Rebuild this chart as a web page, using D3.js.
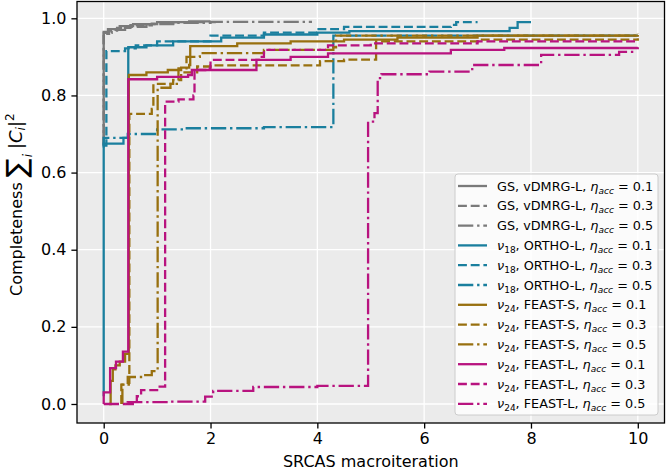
<!DOCTYPE html>
<html><head><meta charset="utf-8">
<script src="https://cdn.jsdelivr.net/npm/d3@7/dist/d3.min.js"></script>
<style>
html,body{margin:0;padding:0;background:#fff;}
text{font-family:"DejaVu Sans",sans-serif;}
</style></head>
<body><svg id="c" width="666" height="470"></svg>
<script>
// ---- data ----
const xTicks = [0, 2, 4, 6, 8, 10];
const yTicks = [0.0, 0.2, 0.4, 0.6, 0.8, 1.0];
const methods = ["GS, vDMRG-L", "ORTHO-L", "FEAST-S", "FEAST-L"];
const etas = ["0.1", "0.3", "0.5"];

const gs01 = [[0,0.67],[0,0.965],[0.08,0.972],[0.3,0.98],[0.55,0.985],[1.0,0.99],[1.6,0.992],[2.0,0.992]];
const gs03 = [[0,0.67],[0,0.96],[0.1,0.968],[0.25,0.975],[0.5,0.982],[0.9,0.986],[1.3,0.99],[2.1,0.99]];
const gs05 = [[0,0.67],[0,0.962],[0.15,0.97],[0.4,0.978],[0.8,0.985],[1.3,0.988],[2.0,0.991],[3.9,0.991]];

const or01 = [[0,0.02],[0,0.675],[0.37,0.69],[0.46,0.925],[0.8,0.93],[1.3,0.94],[2.2,0.95],[3.0,0.958],[4.0,0.963],[4.6,0.967],[7.6,0.975],[7.75,0.99],[8.0,0.99]];
const or03 = [[0,0.67],[0.05,0.915],[0.4,0.922],[0.6,0.93],[1.0,0.94],[2.0,0.955],[3.0,0.963],[4.0,0.972],[4.5,0.978],[6.5,0.983],[6.6,0.99],[7.0,0.99]];
const or05 = [[0,0.665],[0,0.69],[0.45,0.70],[1.0,0.712],[1.5,0.715],[3.0,0.718],[4.3,0.955],[10,0.955]];

const fs01 = [[0.1,0.0],[0.13,0.06],[0.17,0.09],[0.22,0.1],[0.3,0.11],[0.4,0.13],[0.47,0.853],[0.8,0.86],[1.2,0.866],[1.45,0.872],[1.6,0.879],[1.62,0.928],[2.5,0.935],[3.5,0.94],[4.5,0.945],[5.5,0.95],[7,0.955],[10,0.957]];
const fs03 = [[0.33,0.0],[0.33,0.05],[0.47,0.055],[0.48,0.752],[0.9,0.765],[0.93,0.83],[1.3,0.84],[1.45,0.86],[1.75,0.875],[2.0,0.878],[4.05,0.889],[4.5,0.893],[5.1,0.94],[7,0.945],[10,0.948]];
const fs05 = [[0.35,0.0],[0.35,0.05],[0.45,0.07],[0.75,0.075],[0.9,0.085],[1.01,0.82],[1.25,0.83],[1.4,0.87],[1.55,0.9],[1.8,0.91],[3.0,0.918],[4.3,0.925],[4.35,0.955],[10,0.96]];

const fl01 = [[0,0.0],[0,0.03],[0.12,0.093],[0.23,0.11],[0.36,0.136],[0.46,0.842],[1.0,0.848],[1.58,0.853],[1.65,0.866],[2.86,0.892],[3.5,0.9],[4.2,0.909],[6.5,0.918],[7.5,0.923],[10,0.925]];
const fl03 = [[0.4,0.0],[0.62,0.02],[0.7,0.036],[1.0,0.045],[1.15,0.784],[1.4,0.79],[1.68,0.8],[1.7,0.866],[1.9,0.87],[2.0,0.892],[2.9,0.9],[3.0,0.918],[4.2,0.93],[5,0.935],[7,0.94],[10,0.942]];
const fl05 = [[0,0.0],[0.45,0.005],[1.25,0.006],[1.9,0.019],[2.05,0.034],[2.8,0.044],[4.0,0.047],[4.95,0.732],[5.07,0.754],[5.13,0.845],[5.2,0.855],[6.1,0.862],[6.9,0.879],[8.19,0.905],[9.65,0.913],[9.93,0.913]];

const seriesData = [gs01, gs03, gs05, or01, or03, or05, fs01, fs03, fs05, fl01, fl03, fl05];

// ---- styles ----
const colors = ["#7a7a7a", "#1a7f9e", "#98700f", "#b8137f"];
const lw = 2.3;
const dashes = [null, "8.9,3.8", "15.3,3.8,2.4,3.8"];
const FS = 16;

const L = 77, R = 664.5, T = 1.5, B = 423;
const svg = d3.select("#c");
const x = d3.scaleLinear().domain([-0.5, 10.5]).range([L, R]);
const y = d3.scaleLinear().domain([-0.0493, 1.0436]).range([B, T]);

svg.append("rect").attr("x", L).attr("y", T).attr("width", R - L).attr("height", B - T).attr("fill", "#ebebeb");

// grid
svg.append("g").selectAll("line").data(xTicks).join("line")
  .attr("x1", d => x(d)).attr("x2", d => x(d)).attr("y1", T).attr("y2", B)
  .attr("stroke", "#fff").attr("stroke-width", 1.3);
svg.append("g").selectAll("line").data(yTicks).join("line")
  .attr("y1", d => y(d)).attr("y2", d => y(d)).attr("x1", L).attr("x2", R)
  .attr("stroke", "#fff").attr("stroke-width", 1.3);

// lines
svg.append("clipPath").attr("id", "clp").append("rect")
  .attr("x", L).attr("y", T).attr("width", R - L).attr("height", B - T);
const line = d3.line().x(d => x(d[0])).y(d => y(d[1])).curve(d3.curveStepAfter);
const gL = svg.append("g").attr("clip-path", "url(#clp)");
seriesData.forEach((s, i) => {
  const m = Math.floor(i / 3), e = i % 3;
  gL.append("path").attr("d", line(s)).attr("fill", "none")
    .attr("stroke", colors[m]).attr("stroke-width", lw)
    .attr("stroke-dasharray", dashes[e]).attr("stroke-linejoin", "miter");
});

// axes
const xAxis = d3.axisBottom(x).tickValues(xTicks).tickSize(5.6).tickPadding(4.5).tickFormat(d3.format("d"));
const yAxis = d3.axisLeft(y).tickValues(yTicks).tickSize(5.6).tickPadding(5).tickFormat(d3.format(".1f"));
const gx = svg.append("g").attr("transform", `translate(0,${B})`).call(xAxis);
const gy = svg.append("g").attr("transform", `translate(${L},0)`).call(yAxis);
[gx, gy].forEach(g => {
  g.select(".domain").remove();
  g.selectAll(".tick line").attr("stroke", "#000").attr("stroke-width", 1.3);
  g.selectAll(".tick text").attr("font-size", FS).attr("fill", "#000").attr("font-family", "DejaVu Sans");
});
svg.append("rect").attr("x", L).attr("y", T).attr("width", R - L).attr("height", B - T)
  .attr("fill", "none").attr("stroke", "#000").attr("stroke-width", 1.3);

// axis labels
svg.append("text").attr("x", (L + R) / 2).attr("y", 467).attr("text-anchor", "middle")
  .attr("font-size", FS).text("SRCAS macroiteration");
const yl = svg.append("text").attr("transform", "translate(21.5,296) rotate(-90)").attr("font-size", FS);
yl.append("tspan").text("Completeness ");
yl.append("tspan").attr("font-size", 28).attr("dy", 4).text("∑");
yl.append("tspan").attr("font-size", 11.5).attr("font-style", "italic").attr("dx", 1).attr("dy", 6).text("i");
yl.append("tspan").attr("font-size", 18).attr("dx", 5).attr("dy", -10).text("|");
yl.append("tspan").attr("font-size", 18).attr("font-style", "italic").text("C");
yl.append("tspan").attr("font-size", 12).attr("font-style", "italic").attr("dy", 3).text("i");
yl.append("tspan").attr("font-size", 18).attr("dy", -3).text("|");
yl.append("tspan").attr("font-size", 12).attr("dy", -8).text("2");

// legend
const lg = svg.append("g");
lg.append("rect").attr("x", 455).attr("y", 174).attr("width", 203).attr("height", 241)
  .attr("rx", 3).attr("fill", "#fff").attr("fill-opacity", 0.8).attr("stroke", "#cccccc").attr("stroke-width", 1);
seriesData.forEach((s, i) => {
  const m = Math.floor(i / 3), e = i % 3;
  const yy = 186 + i * 19.8;
  lg.append("line").attr("x1", 458).attr("x2", 487).attr("y1", yy).attr("y2", yy)
    .attr("stroke", colors[m]).attr("stroke-width", lw).attr("stroke-dasharray", dashes[e]);
  const t = lg.append("text").attr("x", 497).attr("y", yy + 4.6).attr("font-size", 12.8);
  if (m === 0) {
    t.append("tspan").text("GS, vDMRG-L, ");
  } else {
    t.append("tspan").attr("font-style", "italic").text("ν");
    t.append("tspan").attr("font-size", 9).attr("dy", 3).text(m === 1 ? "18" : "24");
    t.append("tspan").attr("dy", -3).text(", " + methods[m] + ", ");
  }
  t.append("tspan").attr("font-style", "italic").text("η");
  t.append("tspan").attr("font-size", 9).attr("font-style", "italic").attr("dy", 3).text("acc");
  t.append("tspan").attr("dy", -3).text(" = " + etas[e]);
});
</script></body></html>
